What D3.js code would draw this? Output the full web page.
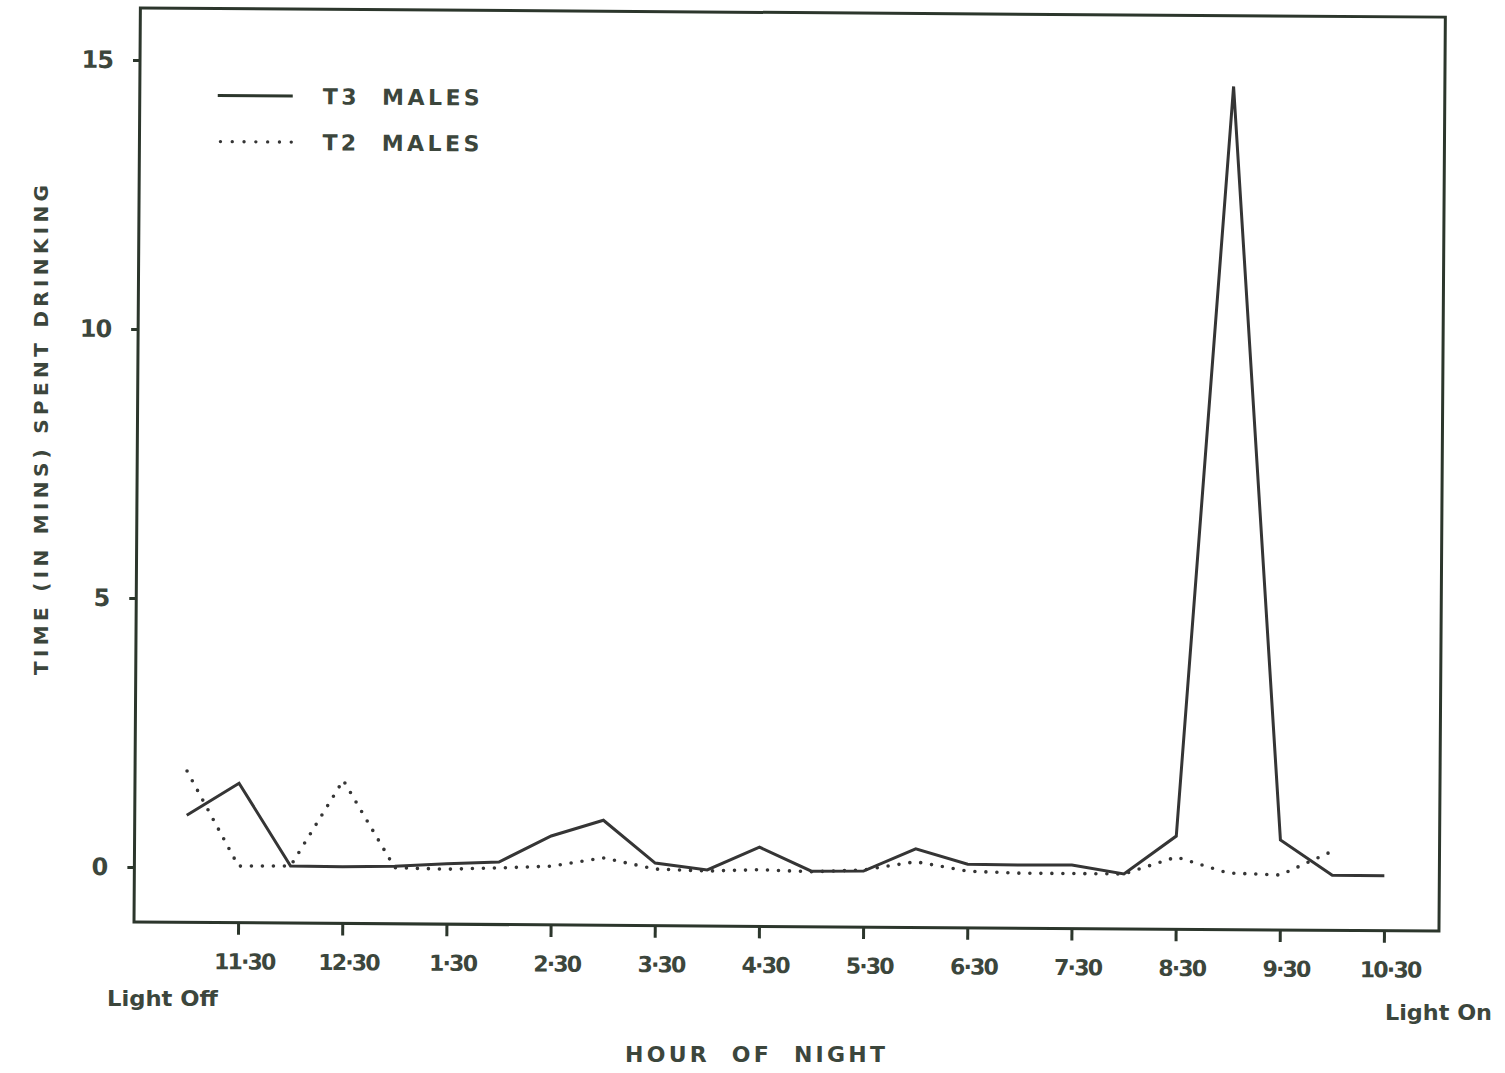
<!DOCTYPE html>
<html>
<head>
<meta charset="utf-8">
<script src="https://cdn.jsdelivr.net/npm/d3@7"></script>
<style>
  html, body { margin: 0; padding: 0; background: #ffffff; }
  svg { display: block; }
  text { font-family: "DejaVu Sans", sans-serif; font-weight: bold; fill: #3c463c; }
</style>
</head>
<body>
<svg id="chart" width="1505" height="1073"></svg>
<script>
// Half-hour observation slots through the night (11·00 to 10·30)
const slots = ['11·00','11·30','12·00','12·30','1·00','1·30','2·00','2·30','3·00','3·30','4·00','4·30',
               '5·00','5·30','6·00','6·30','7·00','7·30','8·00','8·30','9·00','9·30','10·00','10·30'];

// Labelled hour ticks on the x axis
const hourTicks = ['11·30','12·30','1·30','2·30','3·30','4·30','5·30','6·30','7·30','8·30','9·30','10·30'];

// Y axis ticks (minutes)
const yTicks = [0, 5, 10, 15];

// Time (min) spent drinking per half hour
const t3Males = [0.97, 1.57, 0.04, 0.03, 0.05, 0.10, 0.14, 0.63, 0.93, 0.14, 0.02, 0.45,
                 0.01, 0.02, 0.44, 0.16, 0.15, 0.16, 0.00, 0.71, 14.65, 0.65, 0.00, 0.00];
const t2Males = [1.79, 0.03, 0.04, 1.64, 0.02, 0.00, 0.03, 0.07, 0.23, 0.03, 0.00, 0.03,
                 0.00, 0.04, 0.20, 0.03, 0.00, 0.00, 0.00, 0.32, 0.03, 0.00, 0.45, null];

const seriesNames = ['T3  MALES', 'T2  MALES'];

const svg = d3.select('#chart');
const frameColor = '#2c362c';
const lineColor = '#353535';
const textColor = '#3c463c';

// Plot frame (slightly tilted, like the hand-drafted original)
const plot = { left: 134, right: 1439, top: 8, bottom: 922 };
const g = svg.append('g').attr('transform', `rotate(0.4, ${plot.left}, ${plot.bottom})`);

const x = d3.scalePoint().domain(slots).range([186, 1384]);
const y = d3.scaleLinear().domain([0, 15]).range([867, 60]);

// frame
g.append('rect')
  .attr('x', plot.left).attr('y', plot.top)
  .attr('width', plot.right - plot.left).attr('height', plot.bottom - plot.top)
  .attr('fill', 'none').attr('stroke', frameColor).attr('stroke-width', 3);

// y axis ticks and labels
const yAxis = d3.axisLeft(y).tickValues(yTicks).tickSize(7).tickPadding(20).tickFormat(d3.format('d'));
const yg = g.append('g').attr('transform', `translate(${plot.left},0)`).call(yAxis);
yg.select('.domain').remove();
yg.selectAll('.tick line').attr('stroke', frameColor).attr('stroke-width', 3);
yg.selectAll('.tick text')
  .style('font-family', '"DejaVu Sans", sans-serif').style('font-weight', 'bold')
  .style('font-size', '24px').style('letter-spacing', '-1px').style('fill', textColor);

// x axis ticks and labels
const xAxis = d3.axisBottom(x).tickValues(hourTicks).tickSize(12).tickPadding(19);
const xg = g.append('g').attr('transform', `translate(0,${plot.bottom})`).call(xAxis);
xg.select('.domain').remove();
xg.selectAll('.tick line').attr('stroke', frameColor).attr('stroke-width', 3);
xg.selectAll('.tick text')
  .style('font-family', '"DejaVu Sans", sans-serif').style('font-weight', 'bold')
  .style('font-size', '22px').style('letter-spacing', '-1.8px').style('fill', textColor)
  .attr('dx', 6);

// data lines
const line = d3.line()
  .defined(d => d.v !== null)
  .x(d => x(d.s))
  .y(d => y(d.v));

g.append('path')
  .datum(slots.map((s, i) => ({ s, v: t3Males[i] })))
  .attr('d', line)
  .attr('fill', 'none').attr('stroke', lineColor)
  .attr('stroke-width', 3).attr('stroke-linejoin', 'miter');

g.append('path')
  .datum(slots.map((s, i) => ({ s, v: t2Males[i] })))
  .attr('d', line)
  .attr('fill', 'none').attr('stroke', lineColor)
  .attr('stroke-width', 3.6).attr('stroke-linecap', 'round')
  .attr('stroke-dasharray', '0 11');

// legend
const legend = g.append('g');
legend.append('line')
  .attr('x1', 212).attr('x2', 287).attr('y1', 95).attr('y2', 95)
  .attr('stroke', frameColor).attr('stroke-width', 3);
legend.append('line')
  .attr('x1', 215).attr('x2', 287).attr('y1', 141).attr('y2', 141)
  .attr('stroke', lineColor).attr('stroke-width', 3.4)
  .attr('stroke-linecap', 'round').attr('stroke-dasharray', '0 11.8');
legend.selectAll('text.leg')
  .data(seriesNames)
  .join('text')
  .attr('class', 'leg')
  .attr('x', 317)
  .attr('y', (d, i) => [103, 149][i])
  .attr('textLength', 157).attr('lengthAdjust', 'spacing')
  .style('font-size', '22px')
  .style('white-space', 'pre')
  .text(d => d);

// axis captions
svg.append('text')
  .attr('x', 107).attr('y', 1006)
  .attr('textLength', 111).attr('lengthAdjust', 'spacingAndGlyphs')
  .style('font-size', '21px')
  .text('Light Off');

svg.append('text')
  .attr('x', 1385).attr('y', 1020)
  .attr('textLength', 107).attr('lengthAdjust', 'spacingAndGlyphs')
  .style('font-size', '21px')
  .text('Light On');

svg.append('text')
  .attr('x', 625).attr('y', 1062)
  .attr('textLength', 260).attr('lengthAdjust', 'spacing')
  .style('font-size', '22px').style('white-space', 'pre')
  .text('HOUR  OF  NIGHT');

svg.append('text')
  .attr('transform', 'translate(48,675) rotate(-90)')
  .attr('x', 0).attr('y', 0)
  .attr('textLength', 490).attr('lengthAdjust', 'spacing')
  .style('font-size', '20px')
  .text('TIME (IN MINS) SPENT DRINKING');
</script>
</body>
</html>
